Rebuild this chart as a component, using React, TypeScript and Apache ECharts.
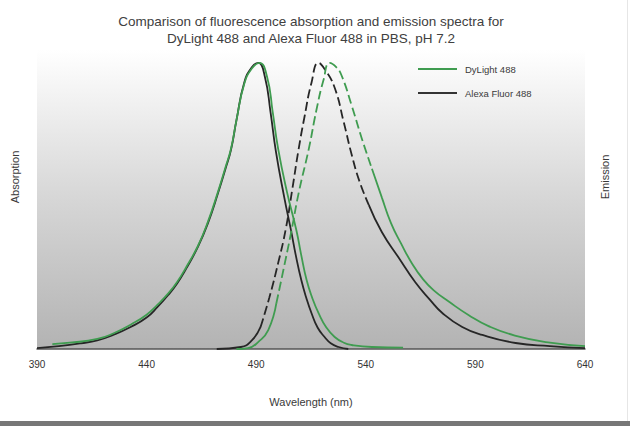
import React, { useEffect, useRef } from "react";
import * as echarts from "echarts";

const titleText =
  "Comparison of fluorescence absorption and emission spectra for\nDyLight 488 and Alexa Fluor 488 in PBS, pH 7.2";
const xAxisTitle = "Wavelength (nm)";
const leftAxisTitle = "Absorption";
const rightAxisTitle = "Emission";
const dyeNames = ["DyLight 488", "Alexa Fluor 488"];
const wavelengthMin = 390;
const wavelengthMax = 640;
const wavelengthStep = 50;

// [wavelength nm, normalised intensity]
const alexaAbsorption: [number, number][] = [
  [390, 0.003], [400, 0.01], [410, 0.02], [417.5, 0.03], [425, 0.05], [432.7, 0.077],
  [440, 0.11], [445, 0.147], [450, 0.19], [454, 0.23], [458, 0.28], [463.4, 0.357],
  [468, 0.44], [472.6, 0.545], [476, 0.63], [478.5, 0.696], [481, 0.8], [484.5, 0.93],
  [488, 0.985], [491, 1.0], [494, 0.95], [496.5, 0.83], [499, 0.69], [502.8, 0.53],
  [506, 0.41], [508, 0.33], [510.6, 0.24], [513, 0.175], [515.2, 0.126], [518, 0.075],
  [521.2, 0.042], [524, 0.02], [527.6, 0.007], [532, 0.0],
];

const dylightAbsorption: [number, number][] = [
  [397, 0.017], [405, 0.022], [417.5, 0.035], [425, 0.055], [432.7, 0.085], [440, 0.12],
  [445, 0.155], [450, 0.195], [454, 0.235], [458, 0.285], [463.4, 0.36], [468, 0.445],
  [472.6, 0.55], [476, 0.635], [478.5, 0.7], [481, 0.8], [484.5, 0.925], [488, 0.98],
  [491.5, 1.0], [495, 0.95], [497.5, 0.83], [500, 0.7], [504, 0.55], [508.3, 0.416],
  [510.5, 0.33], [513, 0.241], [515.5, 0.18], [518.4, 0.126], [522, 0.075], [525.8, 0.042],
  [530, 0.022], [533.6, 0.014], [542.8, 0.007], [557, 0.005],
];

const alexaEmission: [number, number][] = [
  [472, 0.0], [483, 0.007], [488, 0.03], [492, 0.077], [496, 0.18], [500, 0.3],
  [503.5, 0.42], [506.5, 0.56], [509.3, 0.696], [512, 0.81], [515.2, 0.93], [518.4, 1.0],
  [521.5, 0.975], [525.8, 0.913], [529.9, 0.794], [533.6, 0.678], [537.2, 0.584],
  [541.4, 0.503], [547.3, 0.409], [555.1, 0.318], [562.5, 0.234], [569.4, 0.171],
  [574.9, 0.126], [584, 0.077], [593.2, 0.049], [608.3, 0.021], [624, 0.01], [640, 0.003],
];

const dylightEmission: [number, number][] = [
  [481, 0.0], [486.3, 0.003], [491, 0.025], [495.5, 0.066], [499.2, 0.16], [502.4, 0.276],
  [506, 0.41], [509.5, 0.55], [513.9, 0.696], [517.5, 0.836], [520.7, 0.94], [523.5, 1.0],
  [526.5, 0.985], [529, 0.955], [533.6, 0.85], [538.2, 0.735], [542.8, 0.63], [547.3, 0.53],
  [551.5, 0.44], [556, 0.37], [561, 0.3], [566, 0.245], [571, 0.205], [578, 0.165],
  [587, 0.118], [596, 0.08], [608, 0.047], [624, 0.022], [640, 0.01],
];

// emission portion drawn dashed [from nm, to nm]
const alexaDashRange: [number, number] = [492, 541.4];
const dylightDashRange: [number, number] = [499.2, 542.8];

const GREEN = "#3f9c50";
const DARK = "#262626";

function part(data: [number, number][], from: number, to: number) {
  return data.filter(([x]) => x >= from && x <= to);
}

function lineSeries(name: string, color: string, data: [number, number][], dashed: boolean) {
  return {
    type: "line",
    name,
    data,
    showSymbol: false,
    symbol: "none",
    smooth: 0.5,
    silent: true,
    itemStyle: { color },
    lineStyle: { color, width: 1.8, type: dashed ? [9, 4] : "solid" },
  };
}

function dyeSeries(
  name: string,
  color: string,
  abs: [number, number][],
  em: [number, number][],
  dash: [number, number]
) {
  return [
    lineSeries(name, color, abs, false),
    lineSeries(name, color, part(em, -Infinity, dash[0]), false),
    lineSeries(name, color, part(em, dash[0], dash[1]), true),
    lineSeries(name, color, part(em, dash[1], Infinity), false),
  ];
}

export default function App() {
  const ref = useRef<HTMLDivElement>(null);
  useEffect(() => {
    if (!ref.current) return;
    const chart = echarts.init(ref.current, undefined, { renderer: "svg" });
    const font = "'Liberation Sans', Arial, sans-serif";
    chart.setOption({
      animation: false,
      backgroundColor: "#ffffff",
      textStyle: { fontFamily: font },
      legend: {
        orient: "vertical",
        left: 413,
        top: 59,
        itemWidth: 39,
        itemHeight: 2,
        itemGap: 14,
        icon: "rect",
        textStyle: { fontSize: 9.5, color: "#3a3a3a", fontFamily: font, padding: [0, 0, 0, 3] },
        data: [
          { name: dyeNames[0], itemStyle: { color: GREEN } },
          { name: dyeNames[1], itemStyle: { color: "#333333" } },
        ],
      },
      grid: {
        left: 37,
        right: 45,
        top: 50,
        bottom: 77,
        show: true,
        borderWidth: 0,
        backgroundColor: new echarts.graphic.LinearGradient(0, 0, 0, 1, [
          { offset: 0, color: "#ffffff" },
          { offset: 0.5, color: "#d6d6d6" },
          { offset: 1, color: "#b3b3b3" },
        ]),
      },
      xAxis: {
        type: "value",
        min: wavelengthMin,
        max: wavelengthMax,
        interval: wavelengthStep,
        name: xAxisTitle,
        nameLocation: "middle",
        nameGap: 47,
        nameTextStyle: { fontSize: 11, color: "#3a3a3a", fontFamily: font },
        axisLine: { show: true, onZero: false, lineStyle: { color: "#555555", width: 1.5 } },
        axisTick: { show: false },
        splitLine: { show: false },
        axisLabel: { fontSize: 10, color: "#333333", margin: 10, fontFamily: font },
      },
      yAxis: {
        type: "value",
        min: 0,
        max: 1.045,
        show: false,
        splitLine: { show: false },
      },
      graphic: [
        {
          type: "text",
          x: 311,
          y: 13,
          style: {
            text: titleText,
            fill: "#404040",
            fontSize: 13.5,
            lineHeight: 17,
            fontFamily: font,
            textAlign: "center",
            textVerticalAlign: "top",
          },
        },
        {
          type: "text",
          x: 15,
          y: 177,
          rotation: Math.PI / 2,
          style: {
            text: leftAxisTitle,
            fill: "#3a3a3a",
            fontSize: 11,
            fontFamily: font,
            textAlign: "center",
            textVerticalAlign: "middle",
          },
        },
        {
          type: "text",
          x: 605,
          y: 177,
          rotation: Math.PI / 2,
          style: {
            text: rightAxisTitle,
            fill: "#3a3a3a",
            fontSize: 11,
            fontFamily: font,
            textAlign: "center",
            textVerticalAlign: "middle",
          },
        },
        {
          type: "rect",
          shape: { x: 0, y: 421, width: 630, height: 5 },
          style: { fill: "#777777" },
        },
        {
          type: "line",
          shape: { x1: 627.5, y1: 0, x2: 627.5, y2: 421 },
          style: { stroke: "#e6e6e6", lineWidth: 1 },
        },
      ],
      series: [
        ...dyeSeries(dyeNames[1], DARK, alexaAbsorption, alexaEmission, alexaDashRange),
        ...dyeSeries(dyeNames[0], GREEN, dylightAbsorption, dylightEmission, dylightDashRange),
      ],
    });
    return () => chart.dispose();
  }, []);
  return (
    <div
      ref={ref}
      style={{ position: "fixed", left: 0, top: 0, width: 630, height: 426, background: "#fff" }}
    />
  );
}
